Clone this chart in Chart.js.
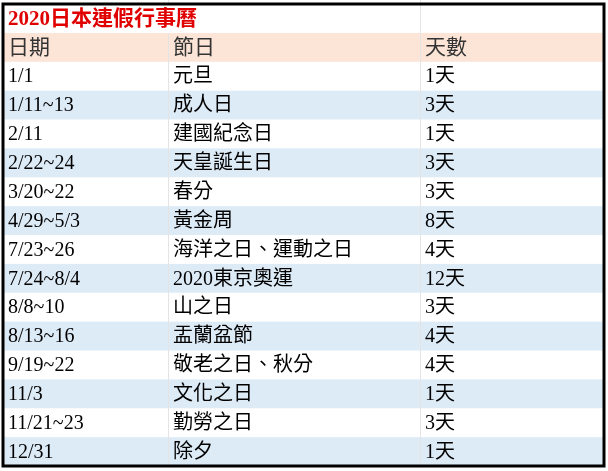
<!DOCTYPE html>
<html>
<head>
<meta charset="utf-8">
<script src="https://cdn.jsdelivr.net/npm/chart.js@4.4.1/dist/chart.umd.min.js"></script>
<style>
  html, body { margin: 0; padding: 0; background: #fff; }
  #wrap { width: 608px; height: 471px; }
</style>
</head>
<body>
<div id="wrap"><canvas id="c"></canvas></div>
<script>
// 2020 Japan long-weekend calendar
const title = '2020日本連假行事曆';
const headers = ['日期', '節日', '天數'];
const dates = ['1/1', '1/11~13', '2/11', '2/22~24', '3/20~22', '4/29~5/3', '7/23~26',
    '7/24~8/4', '8/8~10', '8/13~16', '9/19~22', '11/3', '11/21~23', '12/31'];
const holidays = ['元旦', '成人日', '建國紀念日', '天皇誕生日', '春分', '黃金周', '海洋之日、運動之日',
    '2020東京奧運', '山之日', '盂蘭盆節', '敬老之日、秋分', '文化之日', '勤勞之日', '除夕'];
const days = ['1天', '3天', '1天', '3天', '3天', '8天', '4天', '12天', '3天', '4天', '4天', '1天', '3天', '1天'];

// column edges in x-axis units (0..601)
const colEdges = [0, 165, 417, 601];
const FONT = '"Liberation Serif", "Noto Sans CJK TC", serif';

const tablePlugin = {
    id: 'table',
    afterDraw(chart) {
        const ctx = chart.ctx;
        const xs = chart.scales.x, ys = chart.scales.y;
        const X = v => xs.getPixelForValue(v);
        const Y = v => ys.getPixelForValue(v);
        const left = X(0), right = X(601);
        ctx.save();
        // row backgrounds
        ctx.fillStyle = '#fce4d6';
        ctx.fillRect(left, Y(-1), right - left, Y(0) - Y(-1));
        dates.forEach((d, i) => {
            if (i % 2 === 1) {
                ctx.fillStyle = '#ddebf7';
                ctx.fillRect(left, Y(i), right - left, Y(i + 1) - Y(i));
            }
        });
        // faint vertical cell lines
        ctx.strokeStyle = '#e4e4e4';
        ctx.lineWidth = 1;
        [1, 2].forEach(k => {
            ctx.beginPath();
            ctx.moveTo(Math.round(X(colEdges[k])) + 0.5, 0);
            ctx.lineTo(Math.round(X(colEdges[k])) + 0.5, Y(dates.length));
            ctx.stroke();
        });
        // title row: white, only right divider
        ctx.fillStyle = '#fff';
        ctx.fillRect(left, Y(-2), X(colEdges[2]) - left, Y(-1) - Y(-2));
        // texts
        ctx.textBaseline = 'middle';
        ctx.fillStyle = '#e00000';
        ctx.font = 'bold 21px ' + FONT;
        ctx.fillText(title, left + 5, (Y(-2) + Y(-1)) / 2 + 1);
        ctx.font = '21px ' + FONT;
        ctx.fillStyle = '#333';
        headers.forEach((h, k) => ctx.fillText(h, X(colEdges[k]) + 5, (Y(-1) + Y(0)) / 2 + 1));
        ctx.fillStyle = '#000';
        ctx.font = '20px ' + FONT;
        dates.forEach((d, i) => {
            const cy = (Y(i) + Y(i + 1)) / 2 + 1;
            ctx.fillText(d, X(colEdges[0]) + 5, cy);
            ctx.fillText(holidays[i], X(colEdges[1]) + 5, cy);
            ctx.fillText(days[i], X(colEdges[2]) + 5, cy);
        });
        // outer border
        ctx.strokeStyle = '#000';
        ctx.lineWidth = 3;
        ctx.strokeRect(left, Y(-2), right - left, Y(dates.length) - Y(-2));
        ctx.restore();
    }
};

new Chart(document.getElementById('c'), {
    type: 'scatter',
    data: { datasets: [{ data: [] }] },
    options: {
        responsive: true,
        maintainAspectRatio: false,
        animation: false,
        layout: { padding: { left: 3, right: 4, top: 4, bottom: 5 } },
        plugins: { legend: { display: false }, tooltip: { enabled: false } },
        scales: {
            x: { type: 'linear', min: 0, max: 601, display: false },
            y: { type: 'linear', min: -2, max: dates.length, reverse: true, display: false }
        }
    },
    plugins: [tablePlugin]
});
</script>
</body>
</html>
